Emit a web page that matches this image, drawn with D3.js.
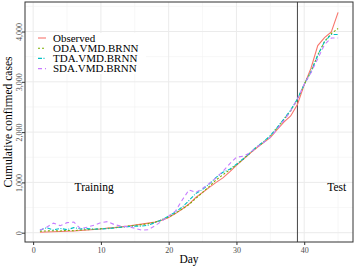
<!DOCTYPE html>
<html>
<head>
<meta charset="utf-8">
<script src="https://cdn.jsdelivr.net/npm/d3@7"></script>
<style>
  body { margin: 0; background: #fff; }
  svg text { font-family: 'Liberation Serif', 'Times New Roman', 'DejaVu Serif', serif; }
</style>
</head>
<body>
<svg class="chart"></svg>
<script>
// values
const days = [1,2,3,4,5,6,7,8,9,10,11,12,13,14,15,16,17,18,19,20,21,22,23,24,25,26,27,28,29,30,31,32,33,34,35,36,37,38,39,40,41,42,43,44,45]

const observed = [10,15,20,25,30,35,45,55,65,75,90,100,115,130,150,170,190,210,250,300,380,470,570,700,800,900,1000,1090,1210,1340,1460,1580,1690,1790,1890,2050,2200,2320,2550,2940,3270,3720,3880,3990,4380]
const oda = [30,35,40,35,45,40,55,60,70,80,85,100,110,130,145,160,180,210,250,310,390,470,560,680,800,920,1050,1150,1250,1350,1460,1580,1700,1800,1920,2080,2250,2420,2650,2950,3200,3530,3800,3960,4060]
const tda = [50,100,55,85,60,100,75,80,70,75,80,95,110,120,130,130,150,200,260,330,410,510,640,780,860,970,1100,1200,1260,1360,1470,1590,1710,1810,1930,2090,2260,2440,2660,2950,3200,3530,3800,3940,3940]
const sda = [50,110,190,140,200,210,80,110,150,200,220,160,130,120,90,50,60,140,230,330,430,650,850,800,880,980,1090,1220,1370,1500,1520,1590,1700,1790,1900,2060,2230,2420,2660,2950,3180,3460,3740,3870,3870]

const seriesNames = ['Observed', 'ODA.VMD.BRNN', 'TDA.VMD.BRNN', 'SDA.VMD.BRNN']
const seriesValues = [observed, oda, tda, sda]
const seriesColors = ['#F8766D', '#7CAE00', '#00BFC4', '#C77CFF']
const seriesDash = [null, '2,2', '4,1.5,1,1.5', '4,3']

const xTicks = [0, 10, 20, 30, 40]
const yTicks = [0, 1000, 2000, 3000, 4000]
const splitDay = 39

const serif = "'Liberation Serif', 'Times New Roman', 'DejaVu Serif', serif"

const width = 357
const height = 268
const margin = { top: 2, right: 4, bottom: 26, left: 25 }

const svg = d3.select('.chart')
    .attr('width', width)
    .attr('height', height)

const x = d3.scaleLinear()
    .domain([-1.2, 47.2])
    .range([margin.left, width - margin.right])

const y = d3.scaleLinear()
    .domain([-185, 4587])
    .range([height - margin.bottom, margin.top])

// gridlines, minor first then major
const minorX = [5, 15, 25, 35, 45]
const minorY = [500, 1500, 2500, 3500, 4500]

svg.append('g')
    .selectAll('line')
    .data(minorX)
    .join('line')
    .attr('x1', d => x(d)).attr('x2', d => x(d))
    .attr('y1', margin.top).attr('y2', height - margin.bottom)
    .attr('stroke', '#f2f2f2').attr('stroke-width', 0.6)

svg.append('g')
    .selectAll('line')
    .data(minorY)
    .join('line')
    .attr('x1', margin.left).attr('x2', width - margin.right)
    .attr('y1', d => y(d)).attr('y2', d => y(d))
    .attr('stroke', '#f2f2f2').attr('stroke-width', 0.6)

svg.append('g')
    .selectAll('line')
    .data(xTicks)
    .join('line')
    .attr('x1', d => x(d)).attr('x2', d => x(d))
    .attr('y1', margin.top).attr('y2', height - margin.bottom)
    .attr('stroke', '#ebebeb').attr('stroke-width', 1)

svg.append('g')
    .selectAll('line')
    .data(yTicks)
    .join('line')
    .attr('x1', margin.left).attr('x2', width - margin.right)
    .attr('y1', d => y(d)).attr('y2', d => y(d))
    .attr('stroke', '#ebebeb').attr('stroke-width', 1)

// split between training and test
svg.append('line')
    .attr('x1', x(splitDay)).attr('x2', x(splitDay))
    .attr('y1', margin.top).attr('y2', height - margin.bottom)
    .attr('stroke', '#444').attr('stroke-width', 1)

// the four series
const line = d3.line()
    .x((d, i) => x(days[i]))
    .y(d => y(d))

svg.append('g')
    .selectAll('path')
    .data(seriesValues)
    .join('path')
    .attr('d', line)
    .attr('fill', 'none')
    .attr('stroke', (d, i) => seriesColors[i])
    .attr('stroke-width', 1.1)
    .attr('stroke-dasharray', (d, i) => seriesDash[i])

// panel border
svg.append('rect')
    .attr('x', margin.left).attr('y', margin.top)
    .attr('width', width - margin.left - margin.right)
    .attr('height', height - margin.top - margin.bottom)
    .attr('fill', 'none')
    .attr('stroke', '#333').attr('stroke-width', 1)

// axes
const xAxis = svg.append('g')
    .attr('transform', `translate(0,${height - margin.bottom})`)
    .call(d3.axisBottom(x).tickValues(xTicks).tickSize(3).tickPadding(2))

const yAxis = svg.append('g')
    .attr('transform', `translate(${margin.left},0)`)
    .call(d3.axisLeft(y).tickValues(yTicks).tickSize(3).tickFormat(d3.format(',')))

xAxis.select('.domain').remove()
yAxis.select('.domain').remove()
xAxis.attr('font-family', serif)
yAxis.attr('font-family', serif)

svg.selectAll('.tick line').attr('stroke', '#333')
svg.selectAll('.tick text')
    .attr('fill', '#4d4d4d')
    .attr('font-family', serif)
    .attr('font-size', 8)

yAxis.selectAll('.tick text')
    .attr('x', 0).attr('dy', 0)
    .attr('text-anchor', 'middle')
    .attr('transform', 'translate(-3.5,0) rotate(-90)')

// axis titles
svg.append('text')
    .attr('x', (margin.left + width - margin.right) / 2)
    .attr('y', 263)
    .attr('text-anchor', 'middle')
    .attr('font-family', serif)
    .attr('font-size', 11.5)
    .text('Day')

svg.append('text')
    .attr('transform', `translate(11.5,${(margin.top + height - margin.bottom) / 2}) rotate(-90)`)
    .attr('text-anchor', 'middle')
    .attr('font-family', serif)
    .attr('font-size', 11.5)
    .text('Cumulative confirmed cases')

// period labels
svg.append('text')
    .attr('x', x(9)).attr('y', y(830))
    .attr('text-anchor', 'middle')
    .attr('font-family', serif)
    .attr('font-size', 11.5)
    .text('Training')

svg.append('text')
    .attr('x', x(44.8)).attr('y', y(830))
    .attr('text-anchor', 'middle')
    .attr('font-family', serif)
    .attr('font-size', 11.5)
    .text('Test')

// legend
const legend = svg.append('g').attr('transform', 'translate(36,33)')

legend.append('rect')
    .attr('width', 110).attr('height', 41)
    .attr('fill', '#fff')

const item = legend.selectAll('g')
    .data(seriesNames)
    .join('g')
    .attr('transform', (d, i) => `translate(0,${5 + i * 10.2})`)

item.append('line')
    .attr('x1', 2).attr('x2', 10)
    .attr('stroke', (d, i) => seriesColors[i])
    .attr('stroke-width', 1.1)
    .attr('stroke-dasharray', (d, i) => seriesDash[i])

item.append('text')
    .attr('x', 17).attr('dy', '0.35em')
    .attr('font-family', serif)
    .attr('font-size', 11)
    .text(d => d)
</script>
</body>
</html>
